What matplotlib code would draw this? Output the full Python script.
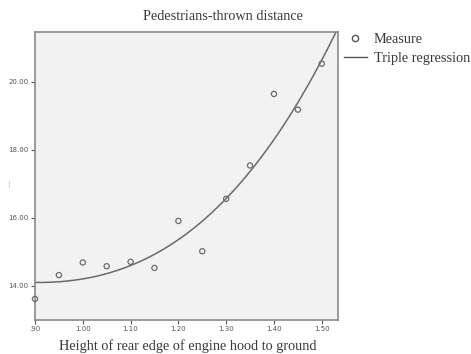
import numpy as np
import matplotlib
matplotlib.use("Agg")
import matplotlib.pyplot as plt
from matplotlib.lines import Line2D

height = [0.90, 0.95, 1.00, 1.05, 1.10, 1.15, 1.20, 1.25, 1.30, 1.35, 1.40, 1.45, 1.50]
distance = [13.62, 14.32, 14.69, 14.58, 14.71, 14.53, 15.91, 15.02, 16.56, 17.54, 19.64, 19.18, 20.53]
# cubic regression curve
curve_x = [0.90, 1.00, 1.10, 1.20, 1.30, 1.35, 1.40, 1.50, 1.533]
curve_y = [14.08, 14.23, 14.68, 15.27, 16.45, 17.50, 18.28, 20.74, 21.46]
xticks = [0.90, 1.00, 1.10, 1.20, 1.30, 1.40, 1.50]
xticklabels = [".90", "1.00", "1.10", "1.20", "1.30", "1.40", "1.50"]
yticks = [14.0, 16.0, 18.0, 20.0]
yticklabels = ["14.00", "16.00", "18.00", "20.00"]

fig = plt.figure(figsize=(4.71, 3.54), dpi=100)
ax = fig.add_axes([0.0743, 0.096, 0.6423, 0.8136])
ax.set_facecolor("#f2f2f2")

coef = np.polyfit(curve_x, curve_y, 3)
xs = np.linspace(0.90, 1.533, 300)
ax.plot(xs, np.polyval(coef, xs), color="#6a6a6a", lw=1.1, zorder=2)
ax.scatter(height, distance, s=14, facecolors="none", edgecolors="#6a6a6a", linewidths=0.9, zorder=3, clip_on=False)

ax.set_xlim(0.90, 1.533)
ax.set_ylim(13.0, 21.46)
ax.set_xticks(xticks)
ax.set_xticklabels(xticklabels)
ax.set_yticks(yticks)
ax.set_yticklabels(yticklabels)
ax.tick_params(axis="both", labelsize=5, colors="#555555", length=3, width=0.8, pad=1.5)
for s in ax.spines.values():
    s.set_color("#8a8a8a")
    s.set_linewidth(1.2)

fig.text(223 / 471, 1 - 17 / 354, "Pedestrians-thrown distance", ha="center", va="center",
         family="Liberation Serif", fontsize=10.3, color="#3a3a3a")
fig.text(188 / 471, 1 - 346 / 354, "Height of rear edge of engine hood to ground", ha="center", va="center",
         family="Liberation Serif", fontsize=10.3, color="#3a3a3a")
fig.text(8 / 471, 1 - 185 / 354, "|", ha="center", va="center", fontsize=5, color="#9ec3e0")

handles = [
    Line2D([], [], marker="o", ls="none", mfc="none", mec="#555555", ms=4.5, mew=1.0),
    Line2D([], [], color="#555555", lw=1.0),
]
fig.legend(handles, ["Measure", "Triple regression"], loc="upper left",
           bbox_to_anchor=(344 / 471, 1 - 33 / 354), frameon=False,
           prop={"family": "Liberation Serif", "size": 10.3}, labelcolor="#3a3a3a",
           handlelength=1.6, handletextpad=0.5, labelspacing=0.45, borderpad=0, borderaxespad=0)

fig.savefig("out.png", dpi=100)
